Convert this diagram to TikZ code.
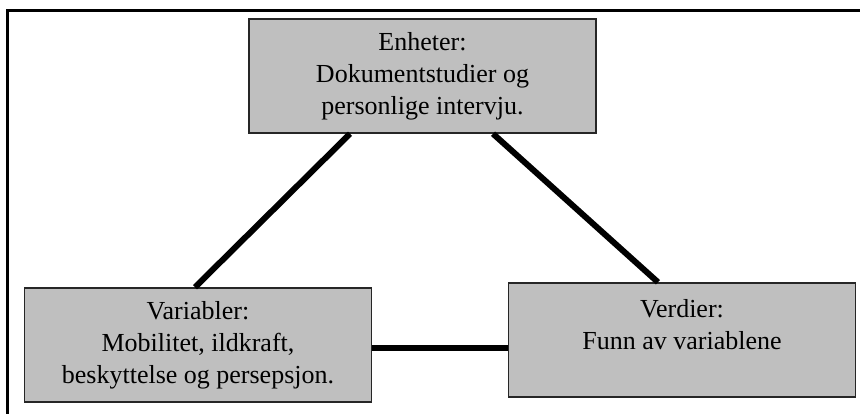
\documentclass[tikz,border=0pt]{standalone}
\usepackage{fontspec}
\setmainfont{Liberation Serif}
\usepackage{tikz}
\usetikzlibrary{positioning}

\begin{document}
\begin{tikzpicture}[x=1pt,y=-1pt,font=\fontsize{26}{32}\selectfont,
	felt/.style={draw=black!85,line width=1.5pt,fill=black!25,align=center,minimum width=347pt,minimum height=114pt,inner sep=2pt},
	kobling/.style={line width=6pt}]

\useasboundingbox (0,0) rectangle (860,414);
\clip (0,0) rectangle (860,414);
\draw[line width=3pt] (7.5,11) rectangle (880,430);

\node[felt] (enheter) at (422.5,76) {Enheter:\\ Dokumentstudier og\\ personlige intervju.};
\node[felt] (variabler) at (198,345) {Variabler:\\ Mobilitet, ildkraft,\\ beskyttelse og persepsjon.};
\node[felt] (verdier) at (682,340) {Verdier:\\ Funn av variablene\\ \mbox{}};

\draw[kobling] ([xshift=-72.5pt]enheter.south) -- ([xshift=-3pt]variabler.north);
\draw[kobling] ([xshift=70.5pt]enheter.south) -- ([xshift=-24pt]verdier.north);
\draw[kobling] ([yshift=-2.7pt]variabler.east) -- ([yshift=-2.7pt]variabler.east -| verdier.west);

\end{tikzpicture}
\end{document}
